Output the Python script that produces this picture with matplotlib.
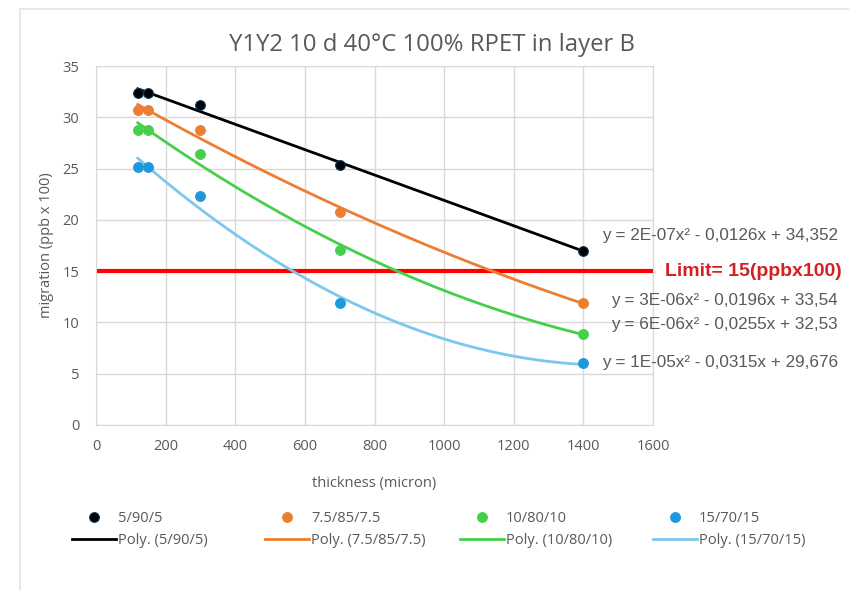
import matplotlib
matplotlib.use("Agg")
import matplotlib.pyplot as plt
import numpy as np

plt.rcParams['font.family'] = ['Open Sans', 'DejaVu Sans']

# thickness (micron) and migration (ppb x 100) per layer ratio
thickness = [120, 150, 300, 700, 1400]
mig_5_90_5 = [32.4, 32.4, 31.2, 25.3, 17.0]
mig_75_85_75 = [30.7, 30.7, 28.8, 20.8, 11.9]
mig_10_80_10 = [28.8, 28.8, 26.4, 17.1, 8.9]
mig_15_70_15 = [25.2, 25.2, 22.3, 11.9, 6.0]

names = ['5/90/5', '7.5/85/7.5', '10/80/10', '15/70/15']
equations = ['y = 2E-07x² - 0,0126x + 34,352',
             'y = 3E-06x² - 0,0196x + 33,54',
             'y = 6E-06x² - 0,0255x + 32,53',
             'y = 1E-05x² - 0,0315x + 29,676']
limit = 15

point_colors = ['#000000', '#ED7D31', '#46CF4A', '#1E98DA']
edge_colors = ['#0A3A5A', '#ED7D31', '#46CF4A', '#1E98DA']
line_colors = ['#000000', '#ED7D31', '#46CF4A', '#7BC7EE']
eq_y_px = [235, 300, 324, 363]
legend_x_px = [72, 265, 460, 653]

grey = '#595959'

fig = plt.figure(figsize=(8.49, 5.90), dpi=100)
ax = fig.add_axes([96 / 849, 1 - 425 / 590, 557 / 849, 359 / 590])

# chart area border
fig.patches.append(plt.Rectangle((20 / 849, -0.1), 1.0, 1 - 9 / 590 + 0.1,
                                 transform=fig.transFigure, fill=False,
                                 edgecolor='#E3E3E3', lw=1.2))

series = [mig_5_90_5, mig_75_85_75, mig_10_80_10, mig_15_70_15]
xs = np.linspace(min(thickness), max(thickness), 200)
for i, ys in enumerate(series):
    coef = np.polyfit(thickness, ys, 2)
    ln, = ax.plot(xs, np.polyval(coef, xs), color=line_colors[i], lw=2.0,
                  label='Poly. (' + names[i] + ')', zorder=3)
    pt, = ax.plot(thickness, ys, 'o', color=point_colors[i],
                  mec=edge_colors[i], mew=0.8, ms=7, label=names[i],
                  ls='none', zorder=4)
    fig.text(838 / 849, 1 - eq_y_px[i] / 590, equations[i], ha='right',
             va='center', fontsize=12.3, color=grey, family='Liberation Sans')
    leg = fig.legend(handles=[pt, ln], loc='upper left',
                     bbox_to_anchor=(legend_x_px[i] / 849, 1 - 511 / 590),
                     frameon=False, fontsize=10.5, labelcolor=grey,
                     handlelength=3.0, handletextpad=0.15, labelspacing=0.5,
                     borderpad=0, borderaxespad=0)

ax.axhline(limit, color='#FF0000', lw=3, zorder=2)
ax.text(1634, limit, 'Limit= ' + str(limit) + '(ppbx100)', color='#D42020',
        fontsize=14, fontweight='bold', va='center', ha='left',
        family='Liberation Sans', clip_on=False)

ax.set_xlim(0, 1600)
ax.set_ylim(0, 35)
ax.set_xticks(np.arange(0, 1601, 200))
ax.set_yticks(np.arange(0, 36, 5))
ax.grid(True, color='#D9D9D9', lw=1)
ax.set_axisbelow(True)
for s in ax.spines.values():
    s.set_color('#D9D9D9')
ax.tick_params(axis='x', length=0, colors=grey, labelsize=10.5, pad=10)
ax.tick_params(axis='y', length=0, colors=grey, labelsize=10.5, pad=12)

fig.text(432 / 849, 1 - 45 / 590, 'Y1Y2 10 d 40°C 100% RPET in layer B',
         fontsize=17.2, color=grey, ha='center', va='center')
ax.set_xlabel('thickness (micron)', fontsize=10.5, color=grey, labelpad=16)
ax.set_ylabel('migration (ppb x 100)', fontsize=10.5, color=grey, labelpad=6)

fig.savefig('out.png', dpi=100)
